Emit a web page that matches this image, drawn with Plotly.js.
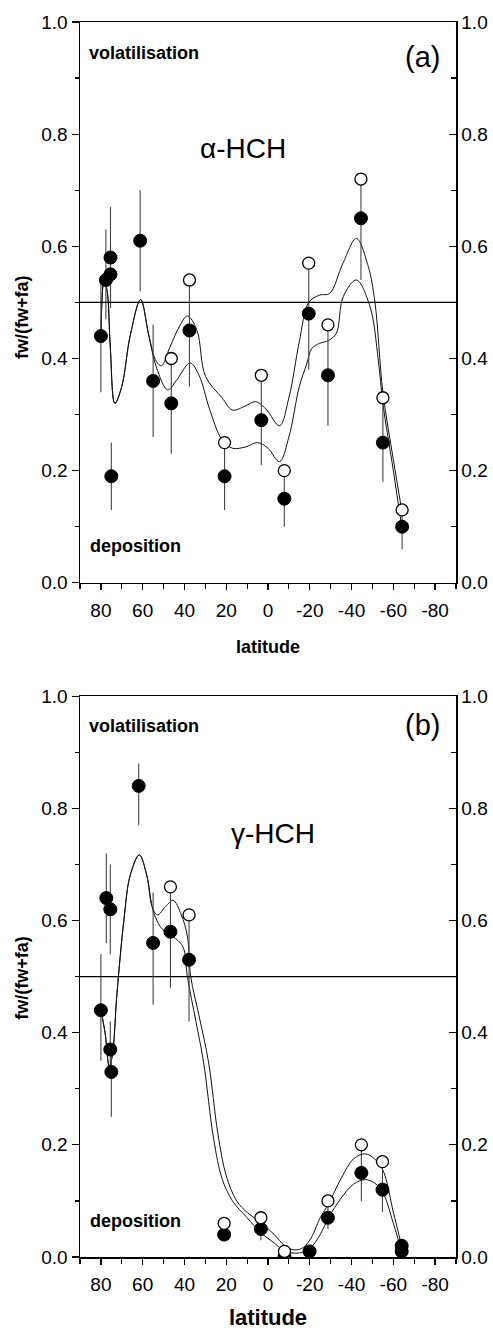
<!DOCTYPE html>
<html>
<head>
<meta charset="utf-8">
<script src="https://cdn.plot.ly/plotly-3.0.1.min.js"></script>
<style>html,body{margin:0;padding:0;background:#fff;}#chart{width:493px;height:1330px;}</style>
</head>
<body>
<div id="chart"></div>
<script>
// ---------- Panel (a): alpha-HCH ----------
const aClosedLat = [80, 77.6, 75.4, 75.4, 75, 61.2, 55, 46.3, 37.6, 20.8, 3.2, -7.8, -19.5, -28.7, -44.5, -55, -64.2];
const aClosedVal = [0.44, 0.54, 0.55, 0.58, 0.19, 0.61, 0.36, 0.32, 0.45, 0.19, 0.29, 0.15, 0.48, 0.37, 0.65, 0.25, 0.10];
const aErrPlus   = [0.10, 0.09, 0.05, 0.09, 0.06, 0.09, 0.10, 0.08, 0.10, 0.06, 0.08, 0.05, 0.09, 0.09, 0.07, 0.07, 0.03];
const aErrMinus  = [0.10, 0.07, 0.05, 0.09, 0.06, 0.09, 0.10, 0.09, 0.10, 0.06, 0.08, 0.05, 0.10, 0.09, 0.11, 0.07, 0.04];
const aOpenLat = [46.3, 37.6, 20.8, 3.2, -7.8, -19.5, -28.7, -44.5, -55, -64.2];
const aOpenVal = [0.40, 0.54, 0.25, 0.37, 0.20, 0.57, 0.46, 0.72, 0.33, 0.13];
const aUpperLat = [80, 78.5, 77, 75.5, 73.3, 70, 66, 61, 57, 53.5, 51, 47, 42, 38.5, 34, 29.9, 22, 17, 11, 6, 1, -5.5, -10, -15, -19.5, -24.7, -29.5, -35.9, -42.3, -48, -51.2, -55, -60, -64];
const aUpperVal = [0.44, 0.54, 0.52, 0.42, 0.32, 0.35, 0.44, 0.505, 0.44, 0.395, 0.387, 0.42, 0.46, 0.476, 0.45, 0.368, 0.33, 0.308, 0.315, 0.323, 0.31, 0.28, 0.33, 0.43, 0.50, 0.513, 0.516, 0.57, 0.614, 0.564, 0.50, 0.34, 0.22, 0.13];
const aLowerLat = [80, 78.5, 77, 75.5, 73.3, 70, 66, 61, 57, 53.5, 48, 44, 37.3, 33, 28, 22, 17, 11, 5, 0, -5.5, -10, -15, -18.5, -21, -24.7, -29, -32.7, -36, -42.3, -48.8, -52.8, -55, -60, -64];
const aLowerVal = [0.44, 0.54, 0.52, 0.42, 0.32, 0.35, 0.44, 0.505, 0.44, 0.385, 0.344, 0.36, 0.392, 0.37, 0.31, 0.255, 0.24, 0.242, 0.25, 0.24, 0.216, 0.26, 0.35, 0.39, 0.418, 0.427, 0.432, 0.445, 0.51, 0.54, 0.493, 0.397, 0.32, 0.20, 0.10];

// ---------- Panel (b): gamma-HCH ----------
const bClosedLat = [80, 77.4, 75.5, 75.5, 75, 61.9, 55, 46.7, 37.8, 21, 3.4, -7.9, -19.9, -28.7, -44.7, -54.8, -64, -64];
const bClosedVal = [0.44, 0.64, 0.62, 0.37, 0.33, 0.84, 0.56, 0.58, 0.53, 0.04, 0.05, 0.00, 0.01, 0.07, 0.15, 0.12, 0.02, 0.01];
const bErrPlus   = [0.10, 0.08, 0.08, 0.05, 0.05, 0.04, 0.09, 0.08, 0.08, 0.00, 0.01, 0.00, 0.00, 0.03, 0.05, 0.05, 0.00, 0.00];
const bErrMinus  = [0.09, 0.08, 0.08, 0.05, 0.08, 0.07, 0.11, 0.10, 0.11, 0.00, 0.02, 0.00, 0.00, 0.02, 0.05, 0.04, 0.00, 0.00];
const bOpenLat = [46.7, 37.8, 21, 3.4, -7.9, -28.7, -44.7, -54.8];
const bOpenVal = [0.66, 0.61, 0.06, 0.07, 0.01, 0.10, 0.20, 0.17];
const bUpperLat = [80, 78, 76, 74.5, 72.3, 69, 66, 61.6, 58, 55.5, 53, 49, 45.4, 41.5, 38.6, 37, 33, 28.4, 24, 20, 15, 9.8, 3.4, -3, -8, -12, -16, -20, -25, -29, -35, -41, -46.4, -51, -55, -60, -64];
const bUpperVal = [0.44, 0.40, 0.34, 0.36, 0.47, 0.60, 0.68, 0.717, 0.68, 0.625, 0.61, 0.625, 0.636, 0.61, 0.572, 0.50, 0.43, 0.346, 0.22, 0.145, 0.10, 0.079, 0.061, 0.04, 0.02, 0.013, 0.015, 0.03, 0.07, 0.095, 0.14, 0.175, 0.184, 0.175, 0.155, 0.08, 0.02];
const bLowerLat = [80, 78, 76, 74.5, 72.3, 69, 66, 61.6, 58, 55.5, 53.8, 50.7, 46.7, 42, 40.2, 38.6, 34.5, 30.8, 26, 22, 17, 10, 3.4, -3, -8, -12, -16, -20, -25, -29, -35, -41, -46.4, -51, -55, -60, -64];
const bLowerVal = [0.44, 0.40, 0.34, 0.36, 0.47, 0.60, 0.68, 0.717, 0.68, 0.625, 0.605, 0.585, 0.575, 0.56, 0.548, 0.50, 0.42, 0.346, 0.21, 0.14, 0.10, 0.07, 0.043, 0.025, 0.01, 0.007, 0.008, 0.015, 0.04, 0.07, 0.105, 0.13, 0.138, 0.132, 0.115, 0.06, 0.01];

// ---------- axes ----------
const latTickVals = [80, 60, 40, 20, 0, -20, -40, -60, -80];
const latTickText = ['80', '60', '40', '20', '0', '-20', '-40', '-60', '-80'];
const threshold = 0.5;
const latEdges = [90, -90];

const FONT = 'Liberation Sans, Arial, Helvetica, sans-serif';

function curve(x, y, xa, ya) {
  return {x: x, y: y, xaxis: xa, yaxis: ya, type: 'scatter', mode: 'lines',
    line: {color: '#111', width: 1, shape: 'spline', smoothing: 1}, hoverinfo: 'skip', showlegend: false};
}
function closed(x, y, ep, em, xa, ya) {
  return {x: x, y: y, xaxis: xa, yaxis: ya, type: 'scatter', mode: 'markers',
    marker: {color: '#000', size: 13, line: {color: '#000', width: 1}},
    error_y: {type: 'data', symmetric: false, array: ep, arrayminus: em, color: '#444', thickness: 1.1, width: 0},
    showlegend: false};
}
function open(x, y, xa, ya) {
  return {x: x, y: y, xaxis: xa, yaxis: ya, type: 'scatter', mode: 'markers',
    marker: {color: '#fff', size: 12, line: {color: '#000', width: 1.3}}, showlegend: false};
}
function hline(xa, ya) {
  return {x: latEdges, y: [threshold, threshold], xaxis: xa, yaxis: ya, type: 'scatter', mode: 'lines',
    line: {color: '#000', width: 1.3}, hoverinfo: 'skip', showlegend: false};
}

const data = [
  hline('x', 'y2'),
  curve(aUpperLat, aUpperVal, 'x', 'y'),
  curve(aLowerLat, aLowerVal, 'x', 'y'),
  closed(aClosedLat, aClosedVal, aErrPlus, aErrMinus, 'x', 'y'),
  open(aOpenLat, aOpenVal, 'x', 'y'),
  hline('x2', 'y4'),
  curve(bUpperLat, bUpperVal, 'x2', 'y3'),
  curve(bLowerLat, bLowerVal, 'x2', 'y3'),
  closed(bClosedLat, bClosedVal, bErrPlus, bErrMinus, 'x2', 'y3'),
  open(bOpenLat, bOpenVal, 'x2', 'y3')
];

const tickFont = {family: FONT, size: 19, color: '#000'};
function xAxis(anchor, titleSize, standoff) {
  return {anchor: anchor, domain: [0, 1], range: [90, -90],
    tickmode: 'array', tickvals: latTickVals, ticktext: latTickText, ticklabelstandoff: 4,
    ticks: 'outside', ticklen: 6, tickwidth: 1.3, tickcolor: '#000',
    minor: {dtick: 10, tick0: 0, ticks: 'outside', ticklen: 5, tickwidth: 1.2, tickcolor: '#000'},
    showline: true, linewidth: 1.5, linecolor: '#000', mirror: true,
    showgrid: false, zeroline: false, tickfont: tickFont, automargin: false,
    title: {text: '<b>latitude</b>', font: {family: FONT, size: titleSize, color: '#000'}, standoff: standoff}};
}
function yLeft(anchor, domain) {
  return {anchor: anchor, domain: domain, range: [0, 1], dtick: 0.2, tick0: 0, tickformat: '.1f',
    ticks: 'outside', ticklen: 7, tickwidth: 1.3, tickcolor: '#000',
    minor: {dtick: 0.1, tick0: 0, ticks: 'outside', ticklen: 4, tickwidth: 1.2, tickcolor: '#000'},
    showline: true, linewidth: 1.5, linecolor: '#000',
    showgrid: false, zeroline: false, tickfont: tickFont, automargin: false};
}
function yRight(anchor, over) {
  return {anchor: anchor, overlaying: over, side: 'right', range: [0, 1], dtick: 0.2, tick0: 0, tickformat: '.1f',
    ticks: 'inside', ticklen: 7, tickwidth: 1.3, tickcolor: '#000',
    minor: {dtick: 0.1, tick0: 0, ticks: 'inside', ticklen: 5, tickwidth: 1.2, tickcolor: '#000'},
    showline: true, linewidth: 1.5, linecolor: '#000',
    showgrid: false, zeroline: false, tickfont: tickFont, automargin: false};
}

const ann = (x, y, text, size, xanchor, xref, yref, angle) => ({
  x: x, y: y, xref: xref, yref: yref, text: text, showarrow: false, xanchor: xanchor, yanchor: 'middle',
  textangle: angle || 0,
  font: {family: FONT, size: size, color: '#000'}
});

const layout = {
  width: 493, height: 1330,
  margin: {l: 80, r: 37, t: 22, b: 72.5},
  paper_bgcolor: '#fff', plot_bgcolor: '#fff',
  showlegend: false,
  xaxis: xAxis('y', 18, 20),
  yaxis: yLeft('x', [0.5459, 1]),
  yaxis2: yRight('x', 'y'),
  xaxis2: xAxis('y3', 22, 21),
  yaxis3: yLeft('x2', [0, 0.4541]),
  yaxis4: yRight('x2', 'y3'),
  annotations: [
    ann(-0.1543, 0.474, '<b>fw/(fw+fa)</b>', 18, 'center', 'paper', 'y domain', -90),
    ann(86.5, 0.945, '<b>volatilisation</b>', 18, 'left', 'x', 'y'),
    ann(-74, 0.937, '(a)', 29, 'center', 'x', 'y'),
    ann(33.5, 0.775, 'α-HCH', 28, 'left', 'x', 'y'),
    ann(86, 0.065, '<b>deposition</b>', 18, 'left', 'x', 'y'),
    ann(-0.1543, 0.498, '<b>fw/(fw+fa)</b>', 18, 'center', 'paper', 'y3 domain', -90),
    ann(86.5, 0.946, '<b>volatilisation</b>', 18, 'left', 'x2', 'y3'),
    ann(-74, 0.948, '(b)', 29, 'center', 'x2', 'y3'),
    ann(18.5, 0.756, 'γ-HCH', 28, 'left', 'x2', 'y3'),
    ann(86, 0.065, '<b>deposition</b>', 18, 'left', 'x2', 'y3')
  ]
};

Plotly.newPlot('chart', data, layout, {displayModeBar: false, staticPlot: true});
</script>
</body>
</html>
